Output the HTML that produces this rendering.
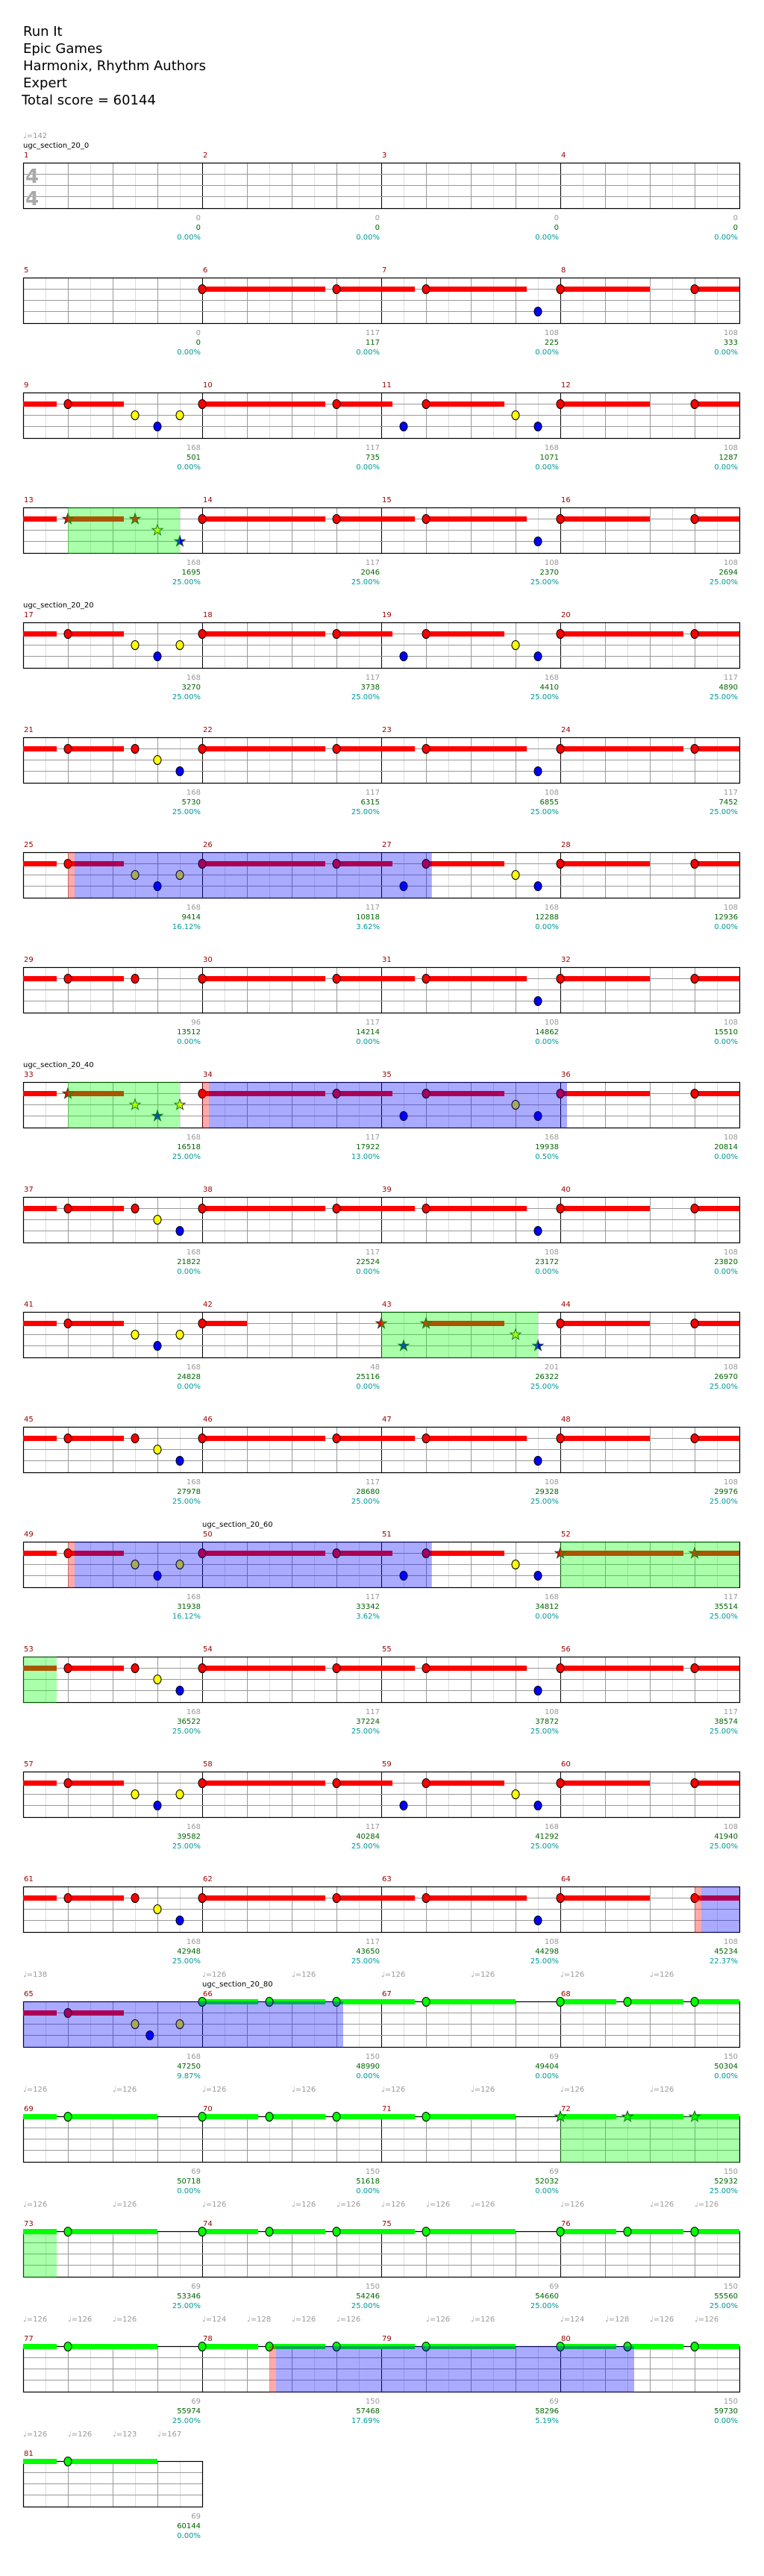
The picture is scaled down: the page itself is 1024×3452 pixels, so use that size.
<!DOCTYPE html>
<html><head><meta charset="utf-8"><title>Run It - Expert</title>
<style>
html,body{margin:0;padding:0;background:#fff;}
svg{display:block;}
text{font-family:"DejaVu Sans","Liberation Sans",sans-serif;}
</style></head>
<body>
<svg id="chart" xmlns="http://www.w3.org/2000/svg" width="1024" height="3452" viewBox="0 0 1024 3452">
<g font-size="18" fill="#000">
<text x="31" y="48">Run It</text>
<text x="31" y="71">Epic Games</text>
<text x="31" y="94">Harmonix, Rhythm Authors</text>
<text x="31" y="117">Expert</text>
<text x="29" y="140">Total score = 60144</text>
</g>
</svg>
<script>
// ---- data ----
const grayVals = [0,0,0,0, 0,117,108,108, 168,117,168,108, 168,117,108,108, 168,117,168,117, 168,117,108,117, 168,117,168,108, 96,117,108,108, 168,117,168,108, 168,117,108,108, 168,48,201,108, 168,117,108,108, 168,117,168,117, 168,117,108,117, 168,117,168,108, 168,117,108,108, 168,150,69,150, 69,150,69,150, 69,150,69,150, 69,150,69,150, 69];
const scoreVals = [0,0,0,0, 0,117,225,333, 501,735,1071,1287, 1695,2046,2370,2694, 3270,3738,4410,4890, 5730,6315,6855,7452, 9414,10818,12288,12936, 13512,14214,14862,15510, 16518,17922,19938,20814, 21822,22524,23172,23820, 24828,25116,26322,26970, 27978,28680,29328,29976, 31938,33342,34812,35514, 36522,37224,37872,38574, 39582,40284,41292,41940, 42948,43650,44298,45234, 47250,48990,49404,50304, 50718,51618,52032,52932, 53346,54246,54660,55560, 55974,57468,58296,59730, 60144];
const pctVals = ["0.00%","0.00%","0.00%","0.00%","0.00%","0.00%","0.00%","0.00%","0.00%","0.00%","0.00%","0.00%","25.00%","25.00%","25.00%","25.00%","25.00%","25.00%","25.00%","25.00%","25.00%","25.00%","25.00%","25.00%","16.12%","3.62%","0.00%","0.00%","0.00%","0.00%","0.00%","0.00%","25.00%","13.00%","0.50%","0.00%","0.00%","0.00%","0.00%","0.00%","0.00%","0.00%","25.00%","25.00%","25.00%","25.00%","25.00%","25.00%","16.12%","3.62%","0.00%","25.00%","25.00%","25.00%","25.00%","25.00%","25.00%","25.00%","25.00%","25.00%","25.00%","25.00%","25.00%","22.37%","9.87%","0.00%","0.00%","0.00%","0.00%","0.00%","0.00%","25.00%","25.00%","25.00%","25.00%","25.00%","25.00%","17.69%","5.19%","0.00%","0.00%"];
// notes per row: [beat, lane(0 green,1 red,2 yellow,3 blue), sustainEnd(0=none), star]
const A = [[1,1,2.25],[2.5,2],[3,3],[3.5,2],[4,1,6.75],[7,1,8.25],[8.5,3],[9,1,10.75],[11,2],[11.5,3]];
const B = [[1,1,2.25],[2.5,1],[3,2],[3.5,3],[4,1,6.75],[7,1,8.75],[9,1,11.25],[11.5,3]];
const G = [[1,0,3],[4,0,5.25],[5.5,0,6.75],[7,0,8.75],[9,0,11]];
const rowNotes = [
 [],
 [[4,1,6.75],[7,1,8.75],[9,1,11.25],[11.5,3],[12,1,14],[15,1,16.75]],
 A.concat([[12,1,14],[15,1,16.75]]),
 [[1,1,2.25,1],[2.5,1,0,1],[3,2,0,1],[3.5,3,0,1],[4,1,6.75],[7,1,8.75],[9,1,11.25],[11.5,3],[12,1,14],[15,1,16.75]],
 A.concat([[12,1,14.75],[15,1,16.75]]),
 B.concat([[12,1,14.75],[15,1,16.75]]),
 A.concat([[12,1,14],[15,1,16.75]]),
 [[1,1,2.25],[2.5,1],[4,1,6.75],[7,1,8.75],[9,1,11.25],[11.5,3],[12,1,14],[15,1,16.75]],
 [[1,1,2.25,1],[2.5,2,0,1],[3,3,0,1],[3.5,2,0,1],[4,1,6.75],[7,1,8.25],[8.5,3],[9,1,10.75],[11,2],[11.5,3],[12,1,14],[15,1,16.75]],
 B.concat([[12,1,14],[15,1,16.75]]),
 [[1,1,2.25],[2.5,2],[3,3],[3.5,2],[4,1,5],[8,1,0,1],[8.5,3,0,1],[9,1,10.75,1],[11,2,0,1],[11.5,3,0,1],[12,1,14],[15,1,16.75]],
 B.concat([[12,1,14],[15,1,16.75]]),
 A.concat([[12,1,14.75,1],[15,1,16.75,1]]),
 B.concat([[12,1,14.75],[15,1,16.75]]),
 A.concat([[12,1,14],[15,1,16.75]]),
 B.concat([[12,1,14],[15,1,16.75]]),
 [[1,1,2.25],[2.5,2],[2.83,3],[3.5,2],[4,0,5.25],[5.5,0,6.75],[7,0,8.75],[9,0,11],[12,0,13.25],[13.5,0,14.75],[15,0,16.75]],
 G.concat([[12,0,13.25,1],[13.5,0,14.75,1],[15,0,16.75,1]]),
 G.concat([[12,0,13.25],[13.5,0,14.75],[15,0,16.75]]),
 G.concat([[12,0,13.25],[13.5,0,14.75],[15,0,16.75]]),
 [[1,0,3]]
];
// overlays: [row, startBeat, endBeat]
const greenZones = [[3,1,3.5],[8,1,3.5],[10,8,11.5],[12,12,16.75],[17,12,16.75]];
const pinkZones = [[6,1,1.15],[8,4,4.15],[12,1,1.15],[15,15,15.15],[19,5.5,5.65]];
const blueZones = [[6,1.15,9.13],[8,4.15,12.15],[12,1.15,9.13],[15,15.15,23.15],[19,5.65,13.65]];
// tempo marks: [row, beat, bpm]
const tempoMarks = [[0,0,142],[16,0,138],[16,4,126],[16,6,126],[16,8,126],[16,10,126],[16,12,126],[16,14,126],
 [17,0,126],[17,2,126],[17,4,126],[17,6,126],[17,8,126],[17,10,126],[17,12,126],[17,14,126],
 [18,0,126],[18,2,126],[18,4,126],[18,6,126],[18,7,126],[18,8,126],[18,9,126],[18,10,126],[18,12,126],[18,14,126],[18,15,126],
 [19,0,126],[19,1,126],[19,2,126],[19,4,124],[19,5,128],[19,6,126],[19,7,126],[19,9,126],[19,10,126],[19,12,124],[19,13,128],[19,14,126],[19,15,126],
 [20,0,126],[20,1,126],[20,2,123],[20,3,167]];
// sections: [row, beat, name]
const sections = [[0,0,"ugc_section_20_0"],[4,0,"ugc_section_20_20"],[8,0,"ugc_section_20_40"],[12,4,"ugc_section_20_60"],[16,4,"ugc_section_20_80"]];

// ---- drawing ----
const NS = "http://www.w3.org/2000/svg";
const svg = document.getElementById('chart');
const X0 = 31, BW = 60, TOP0 = 218, RH = 154, NROWS = 21, TOTAL_MEAS = 81;
function bx(b){ return X0 + b*BW; }
function rowTop(r){ return TOP0 + r*RH; }
function laneY(r,l){ return rowTop(r) + 15*l; }
function mk(tag, attrs, parent){ const e=document.createElementNS(NS,tag); for(const k in attrs) e.setAttribute(k,attrs[k]); (parent||svg).appendChild(e); return e; }
const laneColors = ["#00ff00","#ff0000","#ffff00","#0000ff"];
function rowBeats(r){ return r===NROWS-1 ? 4 : 16; }

for(let r=0;r<NROWS;r++){
  const g = mk('g',{});
  
  
  const top=rowTop(r), nb=rowBeats(r), w=nb*BW;
  mk('rect',{x:X0,y:top,width:w,height:61,fill:'#fff'},g);
  for(let i=1;i<nb*2;i++){
    const x=X0+i*30+0.5;
    const col = i%8===0 ? '#000' : (i%2===0 ? '#999' : '#ddd');
    mk('line',{x1:x,x2:x,y1:top,y2:top+61,stroke:col,'stroke-width':1},g);
  }
  for(let l=1;l<=3;l++) mk('line',{x1:X0,x2:X0+w,y1:top+15*l+0.5,y2:top+15*l+0.5,stroke:'#999','stroke-width':1},g);
  mk('rect',{x:X0+0.5,y:top+0.5,width:w,height:61,fill:'none',stroke:'#000','stroke-width':1.2},g);
  // measure numbers & labels
  for(let m=0;m<nb/4;m++){
    const mi = r*4+m;
    if(mi>=TOTAL_MEAS) break;
    const mn = mk('text',{x:X0+m*240+1,y:top-7,'font-size':10,fill:'#990000'});
    mn.textContent = String(mi+1);
    
    
    const rx = X0+(m+1)*240-2, by=top+61;
    const t1 = mk('text',{x:rx,y:by+16,'font-size':10,fill:'#999','text-anchor':'end'}); t1.textContent=String(grayVals[mi]);
    
    
    const t2 = mk('text',{x:rx,y:by+29,'font-size':10,fill:'#006600','text-anchor':'end'}); t2.textContent=String(scoreVals[mi]);
    
    
    const t3 = mk('text',{x:rx,y:by+42,'font-size':10,fill:'#009999','text-anchor':'end'}); t3.textContent=pctVals[mi];
    
    
  }
}
// time signature
['4','4'].forEach((d,i)=>{
  const t=mk('text',{x:34,y:245+i*30,'font-size':26,'font-weight':'bold',fill:'#aaa'}); t.textContent=d;
  
  
});
// section labels
sections.forEach(s=>{
  const t=mk('text',{x:bx(s[1]),y:rowTop(s[0])-20,'font-size':10,fill:'#000'}); t.textContent=s[2];
  
  
});
// tempo marks
tempoMarks.forEach(tm=>{
  const t=mk('text',{x:bx(tm[1]),y:rowTop(tm[0])-33,'font-size':10,fill:'#999'}); t.textContent='\u2669='+tm[2];
  
  
});
// sustains (may wrap to next row)
function span(r,s,e,cb){ // split across rows
  let rr=r, ss=s, ee=e;
  while(ee>0 && rr<NROWS){
    const nb=rowBeats(rr);
    cb(rr, Math.max(ss,0), Math.min(ee,nb));
    ss-=16; ee-=16; rr++;
    if(ee<=0) break;
  }
}
rowNotes.forEach((notes,r)=>{
  notes.forEach(n=>{
    if(n[2]){
      span(r,n[0],n[2],(rr,a,b)=>{
        const bar=mk('rect',{x:bx(a),y:laneY(rr,n[1])-3,width:(b-a)*BW,height:7,fill:laneColors[n[1]]});
        
        
      });
    }
  });
});
function starPts(cx,cy,R,ri){
  const p=[]; for(let i=0;i<10;i++){ const a=-Math.PI/2+i*Math.PI/5; const rad=i%2?ri:R; p.push((cx+rad*Math.cos(a)).toFixed(1)+','+(cy+rad*Math.sin(a)).toFixed(1)); } return p.join(' ');
}
rowNotes.forEach((notes,r)=>{
  notes.forEach(n=>{
    const cx=bx(n[0]), cy=laneY(r,n[1]);
    let el;
    if(n[3]) el=mk('polygon',{points:starPts(cx,cy+0.5,7.5,3),fill:laneColors[n[1]],stroke:'#224422','stroke-width':1});
    else el=mk('ellipse',{cx:cx,cy:cy+0.5,rx:5,ry:6,fill:laneColors[n[1]],stroke:'#000','stroke-width':1});
    
    
  });
});
// overlays
function zone(list,color,name){
  list.forEach(z=>{
    span(z[0],z[1],z[2],(rr,a,b)=>{
      const el=mk('rect',{x:bx(a),y:rowTop(rr),width:(b-a)*BW,height:62,fill:color,'fill-opacity':0.333});
      
      
    });
  });
}
zone(greenZones,'#00ff00','star-power-phrase');
zone(pinkZones,'#ff0000','overdrive-activation');
zone(blueZones,'#0000ff','overdrive-zone');
</script>
</body></html>
